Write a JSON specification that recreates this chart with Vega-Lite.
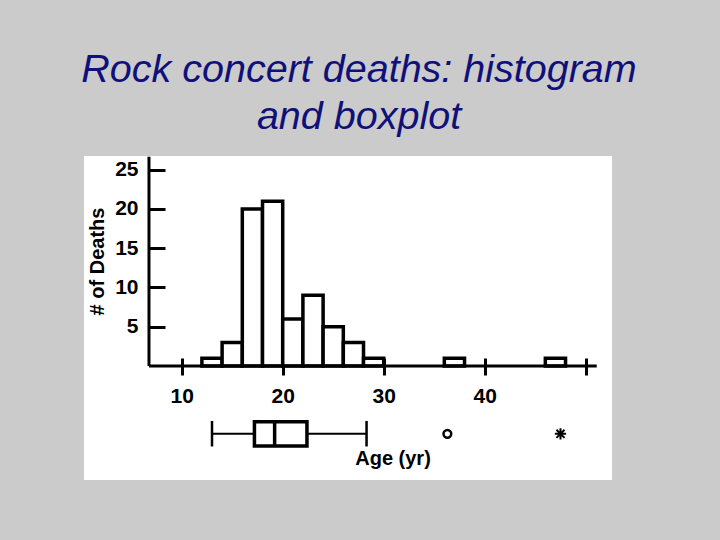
{
  "$schema": "https://vega.github.io/schema/vega-lite/v6.json",
  "width": 528,
  "height": 324,
  "autosize": {"type": "none"},
  "padding": {"left": 84, "top": 156, "right": 108, "bottom": 60},
  "background": "#cbcbcb",
  "view": {"fill": "white", "stroke": null},
  "title": {
    "text": ["Rock concert deaths: histogram", "and boxplot"],
    "font": "Liberation Sans",
    "fontStyle": "italic",
    "fontWeight": "normal",
    "fontSize": 39.5,
    "lineHeight": 47,
    "color": "#10107a",
    "anchor": "middle",
    "dx": 11,
    "offset": 18
  },
  "datasets": {
    "bins": [
      {"start": 12, "end": 14, "count": 1},
      {"start": 14, "end": 16, "count": 3},
      {"start": 16, "end": 18, "count": 20},
      {"start": 18, "end": 20, "count": 21},
      {"start": 20, "end": 22, "count": 6},
      {"start": 22, "end": 24, "count": 9},
      {"start": 24, "end": 26, "count": 5},
      {"start": 26, "end": 28, "count": 3},
      {"start": 28, "end": 30, "count": 1},
      {"start": 36, "end": 38, "count": 1},
      {"start": 46, "end": 48, "count": 1}
    ],
    "box": [
      {"min": 13, "q1": 17.2, "median": 19.2, "q3": 22.4, "max": 28.3}
    ],
    "outliers": [
      {"age": 36.3, "kind": "mild"},
      {"age": 47.5, "kind": "extreme"}
    ]
  },
  "layer": [
    {
      "data": {"name": "bins"},
      "mark": {"type": "rect", "fill": "white", "stroke": "black", "strokeWidth": 3.5},
      "encoding": {
        "x": {
          "field": "start",
          "type": "quantitative",
          "scale": {"domain": [0.327, 52.6], "nice": false, "zero": false},
          "axis": {
            "orient": "bottom",
            "offset": -122,
            "values": [10, 20, 30, 40, 50],
            "labelExpr": "datum.value == 50 ? '' : datum.label",
            "domain": false,
            "grid": false,
            "tickSize": 17,
            "tickWidth": 3,
            "tickColor": "black",
            "labelFont": "Liberation Sans",
            "labelFontSize": 21,
            "labelFontWeight": "bold",
            "labelColor": "black",
            "labelPadding": 10,
            "title": "Age (yr)",
            "titleFont": "Liberation Sans",
            "titleFontSize": 20,
            "titleFontWeight": "bold",
            "titleColor": "black",
            "titleX": 308.5,
            "titleY": 106,
            "titleAlign": "center",
            "titleBaseline": "alphabetic"
          }
        },
        "x2": {"field": "end"},
        "y": {
          "field": "count",
          "type": "quantitative",
          "scale": {"domain": [-14.52, 26.75], "nice": false, "zero": false},
          "axis": {
            "orient": "left",
            "offset": -65,
            "values": [5, 10, 15, 20, 25],
            "domain": false,
            "grid": false,
            "tickSize": -16,
            "tickWidth": 3,
            "tickColor": "black",
            "labelFont": "Liberation Sans",
            "labelFontSize": 21,
            "labelFontWeight": "bold",
            "labelColor": "black",
            "labelPadding": 27,
            "title": "# of Deaths",
            "titleFont": "Liberation Sans",
            "titleFontSize": 20,
            "titleFontWeight": "bold",
            "titleColor": "black",
            "titleAngle": 270,
            "titleX": -51.5,
            "titleY": 105,
            "titleAlign": "center",
            "titleBaseline": "middle"
          }
        },
        "y2": {"datum": 0}
      }
    },
    {
      "data": {"values": [{}]},
      "mark": {"type": "rule", "stroke": "black", "strokeWidth": 3},
      "encoding": {
        "x": {"datum": 6.76, "type": "quantitative"},
        "x2": {"datum": 51.09},
        "y": {"datum": 0, "type": "quantitative"}
      }
    },
    {
      "data": {"values": [{}]},
      "mark": {"type": "rule", "stroke": "black", "strokeWidth": 3},
      "encoding": {
        "x": {"datum": 6.76, "type": "quantitative"},
        "y": {"datum": 0, "type": "quantitative"},
        "y2": {"datum": 26.66}
      }
    },
    {
      "data": {"name": "box"},
      "mark": {"type": "rule", "stroke": "black", "strokeWidth": 2},
      "encoding": {
        "x": {"field": "min", "type": "quantitative"},
        "x2": {"field": "max"},
        "y": {"datum": -8.64, "type": "quantitative"}
      }
    },
    {
      "data": {"name": "box"},
      "mark": {"type": "rule", "stroke": "black", "strokeWidth": 2.5},
      "encoding": {
        "x": {"field": "min", "type": "quantitative"},
        "y": {"datum": -7.0, "type": "quantitative"},
        "y2": {"datum": -10.25}
      }
    },
    {
      "data": {"name": "box"},
      "mark": {"type": "rule", "stroke": "black", "strokeWidth": 2.5},
      "encoding": {
        "x": {"field": "max", "type": "quantitative"},
        "y": {"datum": -7.0, "type": "quantitative"},
        "y2": {"datum": -10.25}
      }
    },
    {
      "data": {"name": "box"},
      "mark": {"type": "rect", "fill": "white", "stroke": "black", "strokeWidth": 3.5},
      "encoding": {
        "x": {"field": "q1", "type": "quantitative"},
        "x2": {"field": "q3"},
        "y": {"datum": -7.1, "type": "quantitative"},
        "y2": {"datum": -10.19}
      }
    },
    {
      "data": {"name": "box"},
      "mark": {"type": "rule", "stroke": "black", "strokeWidth": 3.5},
      "encoding": {
        "x": {"field": "median", "type": "quantitative"},
        "y": {"datum": -7.1, "type": "quantitative"},
        "y2": {"datum": -10.19}
      }
    },
    {
      "data": {"name": "outliers"},
      "transform": [{"filter": "datum.kind == 'mild'"}],
      "mark": {"type": "point", "shape": "circle", "filled": false, "stroke": "black", "strokeWidth": 2.5, "size": 60, "opacity": 1},
      "encoding": {
        "x": {"field": "age", "type": "quantitative"},
        "y": {"datum": -8.64, "type": "quantitative"}
      }
    },
    {
      "data": {"name": "outliers"},
      "transform": [{"filter": "datum.kind == 'extreme'"}],
      "mark": {"type": "point", "shape": "M-1,0L1,0M0,-1L0,1M-0.72,-0.72L0.72,0.72M-0.72,0.72L0.72,-0.72", "filled": false, "stroke": "black", "strokeWidth": 2, "size": 125, "opacity": 1},
      "encoding": {
        "x": {"field": "age", "type": "quantitative"},
        "y": {"datum": -8.64, "type": "quantitative"}
      }
    }
  ]
}
